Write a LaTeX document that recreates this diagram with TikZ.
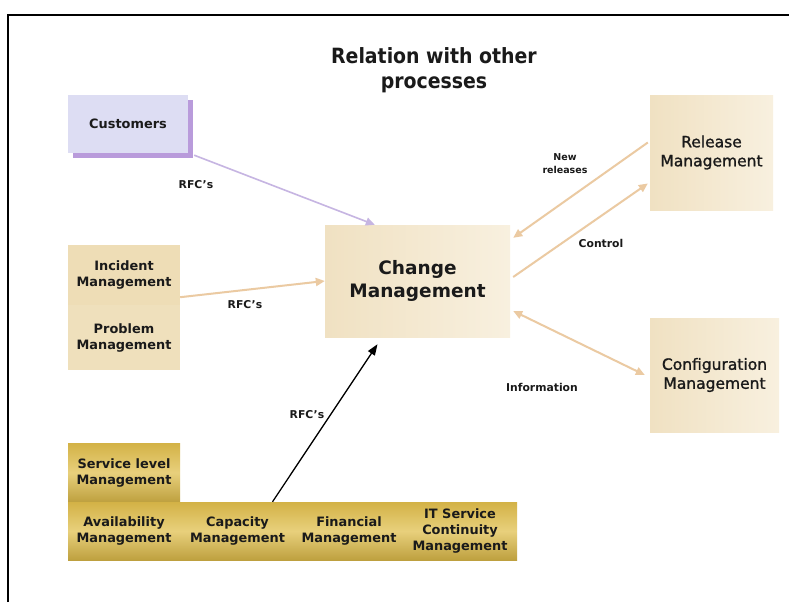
\documentclass[tikz,border=0pt]{standalone}
\usepackage{fontspec}
\setmainfont{DejaVu Sans}
\newfontfamily\titlefont{DejaVu Sans Condensed}
\newfontfamily\semibold[FakeBold=1.2]{DejaVu Sans}
\usetikzlibrary{arrows.meta,shadows,calc}

\definecolor{lavfill}{HTML}{DDDDF3}
\definecolor{lavshadow}{HTML}{B99BDB}
\definecolor{lavline}{HTML}{C6B5E2}
\definecolor{creamA}{HTML}{F0E1C2}
\definecolor{creamB}{HTML}{F8F0DF}
\definecolor{creamC}{HTML}{EEDDB6}
\definecolor{goldA}{HTML}{D3B246}
\definecolor{goldB}{HTML}{E8D07C}
\definecolor{tanline}{HTML}{EBCAA2}
\definecolor{inkcol}{HTML}{1A1A1A}

\tikzset{
  smalltxt/.style={font=\bfseries\fontsize{12.9}{16}\selectfont, align=center, text=inkcol},
  lavbox/.style={rectangle, inner sep=0, fill=lavfill, smalltxt,
    general shadow={shadow xshift=5pt, shadow yshift=-5pt, fill=lavshadow}},
  creambox/.style={rectangle, inner sep=0, left color=creamA, right color=creamB},
  leftbox/.style={rectangle, inner sep=0, fill=creamC, smalltxt},
  goldbox/.style={rectangle, inner sep=0, top color=goldA, bottom color=goldA!90!black,
    middle color=goldB, smalltxt},
  bigtxt/.style={font=\bfseries\fontsize{18.5}{23}\selectfont, align=center, text=inkcol},
  midtxt/.style={font=\semibold\fontsize{15.5}{19}\selectfont, align=center, text=inkcol},
  lbl/.style={font=\bfseries\fontsize{10.8}{14}\selectfont, align=center, text=inkcol},
  tanarrow/.style={draw=tanline, line width=2pt, -{Triangle[length=9pt,width=8pt]}},
  lavarrow/.style={draw=lavline, line width=1.6pt, -{Triangle[length=9pt,width=8pt]}},
  blackarrow/.style={draw=black, line width=1.3pt, -{Triangle[length=11pt,width=8pt]}},
}

\begin{document}
\begin{tikzpicture}[x=1pt,y=-1pt]
\useasboundingbox (0,0) rectangle (789,602);
\fill[white] (0,0) rectangle (789,602);
% frame
\draw[line width=1.5pt] (8,602) -- (8,15) -- (789,15);

% title
\node[font=\titlefont\bfseries\fontsize{21}{25}\selectfont, align=center, text=inkcol]
  (title) at (434,70) {Relation with other\\processes};

% boxes
\node[lavbox, minimum width=120, minimum height=58] (cust) at (128,124) {Customers};

\node[leftbox, minimum width=112, minimum height=60] (incident) at (124,275) {Incident\\Management};
\node[leftbox, minimum width=112, minimum height=65, fill=creamC!85!creamB] (problem) at (124,337.5) {Problem\\Management};

\node[creambox, minimum width=185, minimum height=112, bigtxt] (change) at (417.5,281) {Change\\Management};
\node[creambox, minimum width=123, minimum height=115, midtxt] (release) at (711.5,152.5) {Release\\Management};
\node[creambox, minimum width=129, minimum height=114, midtxt] (config) at (714.5,375) {Configuration\\Management};

\node[goldbox, minimum width=112, minimum height=59] (service) at (124,472.5) {Service level\\Management};
\node[goldbox, minimum width=112, minimum height=58] (avail) at (124,531) {Availability\\Management};
\node[goldbox, minimum width=115, minimum height=58] (capac) at (237.5,531) {Capacity\\Management};
\node[goldbox, minimum width=108, minimum height=58] (financ) at (349,531) {Financial\\Management};
\node[goldbox, minimum width=114, minimum height=58] (itsc) at (460,531) {IT Service\\Continuity\\Management};

% connectors
\draw[lavarrow] ($(cust.south east)+(6,2)$) -- ($(change.north west)+(50,0)$);
\draw[tanarrow] ($(incident.south east)+(0,-8)$) -- (change.west);
\draw[tanarrow] ($(release.west)+(-2,-10)$) -- ($(change.north east)+(3,13)$);
\draw[tanarrow] ($(change.east)+(3,-4)$) -- ($(release.west)+(-2,31)$);
\draw[tanarrow, {Triangle[length=9pt,width=8pt]}-{Triangle[length=9pt,width=8pt]}]
  ($(change.east)+(3,30)$) -- ($(config.west)+(-5,0)$);
\draw[blackarrow] ($(capac.north)+(35,0)$) -- ($(change.south)+(-40,7)$);

% connector labels
\node[lbl] (lrfc1) at (196,185) {RFC's};
\node[lbl] (lrfc2) at (245,305) {RFC's};
\node[lbl] (lrfc3) at (307,415) {RFC's};
\node[lbl, font=\bfseries\fontsize{9.5}{13}\selectfont] (lnew) at (565,164) {New\\releases};
\node[lbl] (lctrl) at (601,243) {Control};
\node[lbl] (linfo) at (542,387) {Information};
\end{tikzpicture}
\end{document}
